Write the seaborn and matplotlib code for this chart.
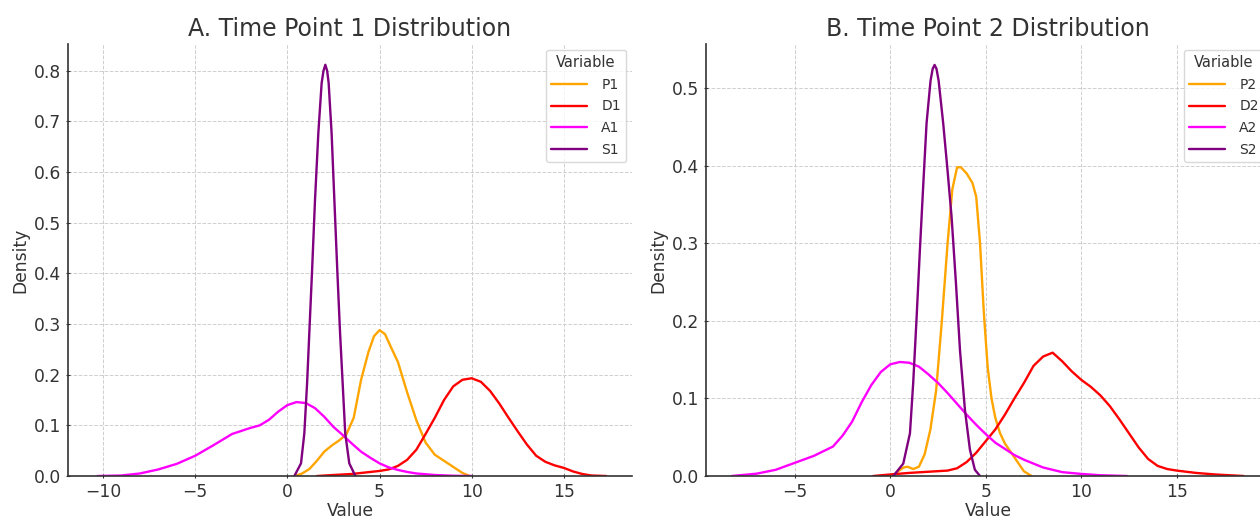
import seaborn as sns
import matplotlib.pyplot as plt
import pandas as pd

# density curves (value, density)
p1_x = [0.4, 0.8, 1.2, 1.6, 2.0, 2.4, 2.8, 3.2, 3.6, 4.0, 4.4, 4.7, 5.0, 5.3, 5.6, 6.0, 6.5, 7.0, 7.5, 8.0, 8.5, 9.0, 9.5, 9.9]
p1_d = [0.0, 0.005, 0.014, 0.03, 0.048, 0.06, 0.07, 0.082, 0.115, 0.19, 0.245, 0.276, 0.288, 0.28, 0.256, 0.225, 0.165, 0.11, 0.066, 0.042, 0.03, 0.018, 0.006, 0.0]

d1_x = [1.6, 2.5, 3.5, 4.5, 5.0, 5.5, 6.0, 6.5, 7.0, 7.5, 8.0, 8.5, 9.0, 9.5, 10.0, 10.5, 11.0, 11.5, 12.0, 12.5, 13.0, 13.5, 14.0, 14.5, 15.0, 15.5, 16.0, 16.5, 17.3]
d1_d = [0.0, 0.002, 0.004, 0.008, 0.01, 0.013, 0.02, 0.032, 0.052, 0.083, 0.115, 0.15, 0.177, 0.19, 0.193, 0.186, 0.168, 0.143, 0.115, 0.088, 0.062, 0.04, 0.028, 0.021, 0.016, 0.009, 0.004, 0.001, 0.0]

a1_x = [-10.3, -9.0, -8.0, -7.0, -6.0, -5.0, -4.0, -3.0, -2.0, -1.5, -1.0, -0.5, 0.0, 0.5, 1.0, 1.5, 2.0, 2.5, 3.0, 3.5, 4.0, 4.5, 5.0, 5.5, 6.0, 6.5, 7.0, 8.0, 9.0, 10.0]
a1_d = [0.0, 0.001, 0.005, 0.013, 0.024, 0.04, 0.061, 0.083, 0.095, 0.1, 0.111, 0.127, 0.14, 0.146, 0.144, 0.134, 0.117, 0.097, 0.081, 0.064, 0.048, 0.036, 0.025, 0.017, 0.012, 0.008, 0.005, 0.002, 0.0005, 0.0]

s1_x = [0.38, 0.74, 0.92, 1.07, 1.19, 1.34, 1.5, 1.68, 1.86, 1.96, 2.06, 2.16, 2.24, 2.4, 2.55, 2.71, 2.86, 3.0, 3.14, 3.36, 3.69]
s1_d = [0.0, 0.025, 0.084, 0.183, 0.282, 0.405, 0.545, 0.677, 0.776, 0.8, 0.812, 0.8, 0.776, 0.677, 0.545, 0.405, 0.282, 0.183, 0.084, 0.025, 0.0]

p2_x = [0.1, 0.4, 0.7, 0.9, 1.2, 1.5, 1.8, 2.1, 2.4, 2.7, 3.0, 3.25, 3.5, 3.7, 4.0, 4.3, 4.5, 4.7, 4.9, 5.1, 5.3, 5.5, 5.75, 6.0, 6.5, 7.0, 7.4]
p2_d = [0.0, 0.006, 0.011, 0.012, 0.009, 0.012, 0.028, 0.06, 0.11, 0.2, 0.3, 0.37, 0.398, 0.398, 0.39, 0.378, 0.36, 0.3, 0.21, 0.14, 0.1, 0.075, 0.055, 0.042, 0.024, 0.006, 0.0]

d2_x = [-0.9, 0.0, 1.0, 2.0, 3.0, 3.5, 4.0, 4.5, 5.0, 5.5, 6.0, 6.5, 7.0, 7.5, 8.0, 8.5, 9.0, 9.5, 10.0, 10.5, 11.0, 11.5, 12.0, 12.5, 13.0, 13.5, 14.0, 14.5, 15.0, 16.0, 17.0, 18.5]
d2_d = [0.0, 0.002, 0.004, 0.0055, 0.007, 0.01, 0.018, 0.03, 0.045, 0.06, 0.079, 0.1, 0.12, 0.142, 0.154, 0.159, 0.148, 0.135, 0.124, 0.115, 0.104, 0.09, 0.073, 0.055, 0.037, 0.022, 0.013, 0.009, 0.007, 0.004, 0.002, 0.0]

a2_x = [-8.3, -7.0, -6.0, -5.0, -4.0, -3.0, -2.5, -2.0, -1.5, -1.0, -0.5, 0.0, 0.5, 1.0, 1.5, 2.0, 2.5, 3.0, 3.5, 4.0, 4.5, 5.0, 5.5, 6.0, 6.5, 7.0, 7.5, 8.0, 9.0, 10.0, 11.0, 12.4]
a2_d = [0.0, 0.003, 0.008, 0.017, 0.026, 0.038, 0.052, 0.07, 0.095, 0.117, 0.134, 0.144, 0.147, 0.146, 0.141, 0.131, 0.12, 0.107, 0.093, 0.079, 0.066, 0.054, 0.043, 0.035, 0.027, 0.021, 0.016, 0.011, 0.005, 0.0027, 0.001, 0.0]

s2_x = [0.16, 0.68, 1.03, 1.2, 1.38, 1.55, 1.73, 1.9, 2.11, 2.22, 2.32, 2.42, 2.53, 2.77, 2.98, 3.21, 3.44, 3.65, 3.91, 4.17, 4.43, 4.7]
s2_d = [0.0, 0.016, 0.055, 0.12, 0.205, 0.291, 0.377, 0.455, 0.51, 0.525, 0.53, 0.525, 0.51, 0.455, 0.399, 0.334, 0.248, 0.162, 0.085, 0.034, 0.008, 0.0]

colors = ["orange", "red", "magenta", "purple"]


def make_df(names, curves):
    rows = []
    for name, (xs, ds) in zip(names, curves):
        for x, d in zip(xs, ds):
            rows.append({"Variable": name, "Value": x, "Density": d})
    return pd.DataFrame(rows)


df1 = make_df(["P1", "D1", "A1", "S1"], [(p1_x, p1_d), (d1_x, d1_d), (a1_x, a1_d), (s1_x, s1_d)])
df2 = make_df(["P2", "D2", "A2", "S2"], [(p2_x, p2_d), (d2_x, d2_d), (a2_x, a2_d), (s2_x, s2_d)])

sns.set_style("ticks")
plt.rcParams["font.family"] = ["DejaVu Sans"]
plt.rcParams["text.color"] = "#333333"
plt.rcParams["axes.labelcolor"] = "#333333"
plt.rcParams["xtick.color"] = "#333333"
plt.rcParams["ytick.color"] = "#333333"

fig = plt.figure(figsize=(12.6, 5.2), dpi=100)
ax1 = fig.add_axes([0.054, 0.0846, 0.4476, 0.8308])
ax2 = fig.add_axes([0.5603, 0.0846, 0.4476, 0.8308])

panels = [
    (ax1, df1, "A. Time Point 1 Distribution", (-11.9, 18.7), 0.853),
    (ax2, df2, "B. Time Point 2 Distribution", (-9.65, 19.88), 0.557),
]

for ax, df, title, xlim, ytop in panels:
    sns.lineplot(data=df, x="Value", y="Density", hue="Variable",
                 palette=colors, estimator=None, sort=False,
                 linewidth=1.7, ax=ax)
    ax.set_xlim(*xlim)
    ax.set_ylim(0, ytop)
    ax.set_title(title, fontsize=17, pad=6)
    ax.set_xlabel("Value", fontsize=12.3, labelpad=1)
    ax.set_ylabel("Density", fontsize=12.3, labelpad=3)
    ax.tick_params(labelsize=12.3, length=3, width=0.8, direction="inout")
    ax.grid(True, linestyle="--", linewidth=0.7, color="#cfcfcf")
    ax.set_axisbelow(True)
    for side in ["top", "right"]:
        ax.spines[side].set_visible(False)
    for side in ["left", "bottom"]:
        ax.spines[side].set_color("#333333")
        ax.spines[side].set_linewidth(1.2)
    leg = ax.legend(title="Variable", loc="upper right", fontsize=10,
                    title_fontsize=10.5, frameon=True, borderaxespad=0.4,
                    handlelength=2.6, labelspacing=0.55, handletextpad=1.0)
    leg.get_frame().set_edgecolor("#d0d0d0")

fig.savefig("out.png", dpi=100)
